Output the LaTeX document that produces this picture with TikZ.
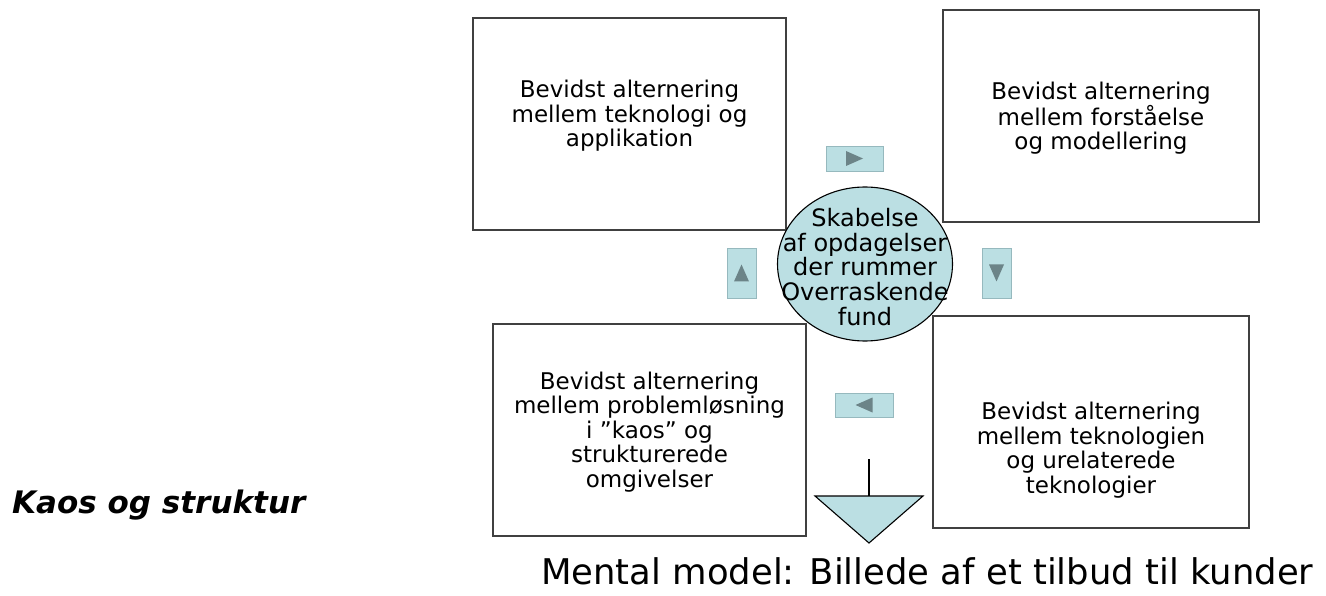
\documentclass[tikz,border=0pt]{standalone}
\usepackage{fontspec}
\setmainfont{DejaVu Sans}
\usetikzlibrary{shapes.geometric}
\definecolor{paleteal}{RGB}{187,223,227}
\definecolor{btnedge}{RGB}{150,185,190}
\definecolor{tipgrey}{RGB}{108,132,136}
\tikzset{
  box/.style={draw=black!75,line width=1.3pt,minimum width=313pt,minimum height=212pt,inner sep=0pt},
  boxtext/.style={align=center,inner sep=0pt,font=\fontsize{23}{24.6}\selectfont},
  hub/.style={ellipse,draw=black,line width=1.1pt,fill=paleteal,minimum width=175pt,minimum height=154pt,inner sep=0pt},
  button/.style={fill=paleteal,draw=btnedge,line width=0.8pt,inner sep=0pt},
  tipmark/.style={fill=tipgrey}
}
\begin{document}
\begin{tikzpicture}[x=1pt,y=-1pt]
  \useasboundingbox (0,0) rectangle (1326,596);
  % the four boxes with their texts
  \node[box] (tl) at (629.5,124) {};
  \node[box,minimum width=316pt] (tr) at (1101,116) {};
  \node[box] (bl) at (649.5,430) {};
  \node[box,minimum width=316pt] (br) at (1091,422) {};
  \node[boxtext] (tltext) at ([yshift=8pt]tl.center) {Bevidst alternering\\mellem teknologi og\\applikation};
  \node[boxtext] (trtext) at ([yshift=-2pt]tr.center) {Bevidst alternering\\mellem forståelse\\og modellering};
  \node[boxtext] (bltext) at ([yshift=-2pt]bl.center) {Bevidst alternering\\mellem problemløsning\\i ”kaos” og\\strukturerede\\omgivelser};
  \node[boxtext] (brtext) at ([yshift=-28pt]br.center) {Bevidst alternering\\mellem teknologien\\og urelaterede\\teknologier};
  % centre
  \node[hub] (hub) at (865,264) {};
  \node[align=center,inner sep=0pt,font=\fontsize{24}{24.7}\selectfont] (hubtext) at ([yshift=-3pt]hub.center) {Skabelse\\af opdagelser\\der rummer\\Overraskende\\fund};
  % small direction buttons
  \foreach \n/\px/\py/\w/\h/\ang in {btnright/854.5/158.5/57/25/0, btndown/996.5/273/29/50/270, btnleft/864/405/58/24/180, btnup/741.5/273/29/50/90} {
    \node[button,minimum width=\w pt,minimum height=\h pt] (\n) at (\px,\py) {};
    \fill[tipmark,shift={(\px,\py)},rotate=\ang] (-8.5,7.5) -- (8.5,0) -- (-8.5,-7.5) -- cycle;
  }
  % output arrow
  \coordinate (stemtop) at (869,459);
  \coordinate (tritop) at (869,496);
  \draw[line width=1.1pt] (stemtop) -- (tritop);
  \draw[line width=1.1pt,fill=paleteal,line join=miter] (815,496) -- (923,496) -- (869,543) -- cycle;
  % captions
  \node[anchor=base west,inner sep=0pt,font=\fontsize{31}{31}\selectfont\bfseries\itshape] (kaos) at (12,513) {Kaos og struktur};
  \node[anchor=base west,inner sep=0pt,font=\fontsize{35.4}{36}\selectfont] (model) at (541,584) {Mental model: Billede af et tilbud til kunder};
\end{tikzpicture}
\end{document}
